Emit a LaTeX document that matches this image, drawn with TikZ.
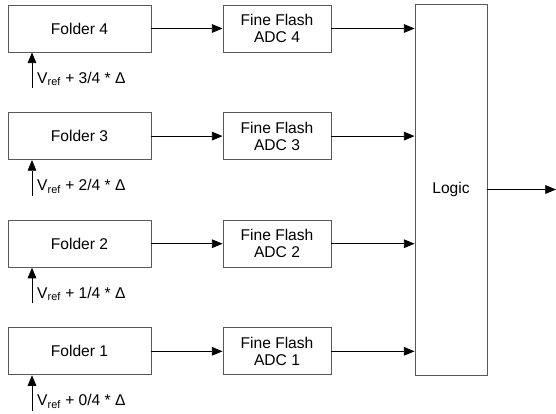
\documentclass[tikz,border=0pt]{standalone}
\usepackage{fontspec}
\setmainfont{Liberation Sans}
\usetikzlibrary{calc, positioning, arrows.meta}

\tikzset{
  blk/.style={draw=black!65, line width=0.8pt, fill=white, inner sep=0pt, align=center,
    font=\fontsize{13.3}{14.6}\selectfont},
  sig/.style={-{Triangle[length=3.2mm,width=2.6mm]}, line width=0.7pt, black}
}

\begin{document}
\begin{tikzpicture}[x=0.03cm, y=-0.03cm]
\useasboundingbox (0,0) rectangle (556,413);
% folders, fine flash ADCs and their reference inputs
\foreach \i in {1,2,3,4} {
  \pgfmathsetmacro{\yy}{28.5+(4-\i)*107.6}
  \pgfmathtruncatemacro{\k}{\i-1}
  \node[blk, minimum width=4.29cm, minimum height=1.41cm] (folder\i) at (79.5,\yy) {Folder \i};
  \node[blk, minimum width=3.24cm, minimum height=1.41cm] (adc\i) at (277,\yy) {Fine Flash\\ADC \i};
  \coordinate (vin\i) at (32,\yy+59.5);
  \draw[sig] (vin\i) -- (vin\i |- folder\i.south);
  \node[anchor=base west, inner sep=0pt, font=\fontsize{13.3}{14.6}\selectfont] (vlab\i) at (37,\yy+54.5)
    {V\textsubscript{ref} + \k/4 * Δ};
  \draw[sig] (folder\i) -- (adc\i);
}
\node[blk, minimum width=2.16cm, minimum height=11.13cm] (logic) at (451,189.5) {Logic};
\foreach \i in {1,2,3,4} \draw[sig] (adc\i) -- (adc\i -| logic.west);
\coordinate (out) at (556,189.5);
\draw[sig] (logic) -- (out);
\end{tikzpicture}
\end{document}
